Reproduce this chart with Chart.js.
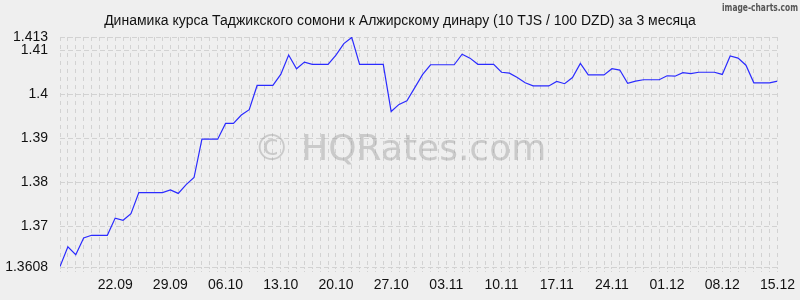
<!DOCTYPE html>
<html>
<head>
<meta charset="utf-8">
<script src="https://cdn.jsdelivr.net/npm/chart.js@4/dist/chart.umd.min.js"></script>
<style>
  html, body { margin: 0; padding: 0; background: #efefef; }
  #wrap { width: 800px; height: 300px; }
</style>
</head>
<body>
<div id="wrap"><canvas id="c" width="800" height="300"></canvas></div>
<script>
// ---- data ----
const titleText = "Динамика курса Таджикского сомони к Алжирскому динару (10 TJS / 100 DZD) за 3 месяца";
const rates = [
  1.3609, 1.3654, 1.3636, 1.3674, 1.3680, 1.3680, 1.3680, 1.3719, 1.3714, 1.3729,
  1.3777, 1.3777, 1.3777, 1.3777, 1.3783, 1.3775, 1.3795, 1.3811, 1.3898, 1.3898,
  1.3898, 1.3934, 1.3934, 1.3953, 1.3965, 1.4020, 1.4020, 1.4020, 1.4045, 1.4089,
  1.4058, 1.4073, 1.4068, 1.4068, 1.4068, 1.4089, 1.4115, 1.4129, 1.4068, 1.4068,
  1.4068, 1.4068, 1.3961, 1.3977, 1.3985, 1.4015, 1.4045, 1.4067, 1.4067, 1.4067,
  1.4067, 1.4091, 1.4082, 1.4068, 1.4068, 1.4068, 1.4050, 1.4048, 1.4038, 1.4026,
  1.4019, 1.4019, 1.4019, 1.4029, 1.4024, 1.4038, 1.4070, 1.4044, 1.4044, 1.4044,
  1.4058, 1.4055, 1.4025, 1.4030, 1.4033, 1.4033, 1.4033, 1.4042, 1.4041, 1.4049,
  1.4047, 1.4050, 1.4050, 1.4050, 1.4045, 1.4087, 1.4082, 1.4066, 1.4026, 1.4026,
  1.4026, 1.4030
];
const xTickLabels = ["22.09","29.09","06.10","13.10","20.10","27.10","03.11","10.11","17.11","24.11","01.12","08.12","15.12"];
const xTickIndex  = [7, 14, 21, 28, 35, 42, 49, 56, 63, 70, 77, 84, 91];
const yTickValues = [1.3608, 1.37, 1.38, 1.39, 1.40, 1.41, 1.413];
const yTickLabels = ["1.3608", "1.37", "1.38", "1.39", "1.4", "1.41", "1.413"];
const yMin = 1.3608, yMax = 1.413;

const points = rates.map((v, i) => ({ x: i, y: v }));
const xLabelMap = {};
xTickIndex.forEach((idx, k) => { xLabelMap[idx] = xTickLabels[k]; });

const decor = {
  id: 'decor',
  beforeDraw(chart) {
    const ctx = chart.ctx;
    ctx.save();
    ctx.fillStyle = '#efefef';
    ctx.fillRect(0, 0, chart.width, chart.height);
    ctx.restore();
  },
  beforeDatasetsDraw(chart) {
    const ctx = chart.ctx;
    ctx.save();
    ctx.font = '36px "DejaVu Sans"';
    ctx.fillStyle = 'rgba(150,150,150,0.42)';
    ctx.textAlign = 'center';
    ctx.textBaseline = 'alphabetic';
    ctx.fillText('© HQRates.com', 400, 160);
    ctx.restore();
  },
  afterDraw(chart) {
    const ctx = chart.ctx;
    ctx.save();
    ctx.font = '14px "Liberation Sans", Arial, sans-serif';
    ctx.fillStyle = '#111';
    ctx.textAlign = 'center';
    ctx.textBaseline = 'alphabetic';
    ctx.fillText(titleText, 400, 25);
    // small credit
    ctx.font = 'bold 10px "DejaVu Sans Condensed", "DejaVu Sans"';
    ctx.fillStyle = '#555';
    ctx.textAlign = 'left';
    const txt = 'image-charts.com';
    const w = ctx.measureText(txt).width;
    const target = 76;
    ctx.translate(722, 11);
    ctx.scale(target / w, 1);
    ctx.fillText(txt, 0, 0);
    ctx.restore();
  }
};

new Chart(document.getElementById('c'), {
  type: 'line',
  data: {
    datasets: [{
      data: points,
      borderColor: '#2b2bff',
      borderWidth: 1.2,
      pointRadius: 0,
      pointHoverRadius: 0,
      tension: 0,
      fill: false
    }]
  },
  options: {
    responsive: false,
    animation: false,
    devicePixelRatio: 1,
    layout: { padding: { top: 37, right: 20, left: 0, bottom: 0 } },
    plugins: { legend: { display: false }, tooltip: { enabled: false }, title: { display: false } },
    scales: {
      x: {
        type: 'linear',
        min: 0,
        max: rates.length - 1,
        afterBuildTicks(scale) { scale.ticks = rates.map((_, i) => ({ value: i })); },
        afterFit(scale) { scale.height = 33; },
        ticks: {
          autoSkip: false,
          maxRotation: 0,
          padding: 5,
          color: '#111',
          font: { family: '"Liberation Sans", Arial, sans-serif', size: 14 },
          callback: (v) => xLabelMap[v] || ''
        },
        grid: {
          color: '#d2d2d2',
          lineWidth: 1,
          tickLength: 5,
          tickColor: '#d2d2d2',
          tickBorderDash: [2, 2]
        },
        border: { display: false, dash: [4, 4] }
      },
      y: {
        min: yMin,
        max: yMax,
        afterBuildTicks(scale) { scale.ticks = yTickValues.map(v => ({ value: v })); },
        afterFit(scale) { scale.width = 60; },
        ticks: {
          autoSkip: false,
          padding: 12,
          color: '#111',
          font: { family: '"Liberation Sans", Arial, sans-serif', size: 14 },
          callback: (v) => { const k = yTickValues.indexOf(v); return k >= 0 ? yTickLabels[k] : ''; }
        },
        grid: { color: '#d2d2d2', lineWidth: 1, drawTicks: false },
        border: { display: false, dash: [5, 3] }
      }
    }
  },
  plugins: [decor]
});
</script>
</body>
</html>
